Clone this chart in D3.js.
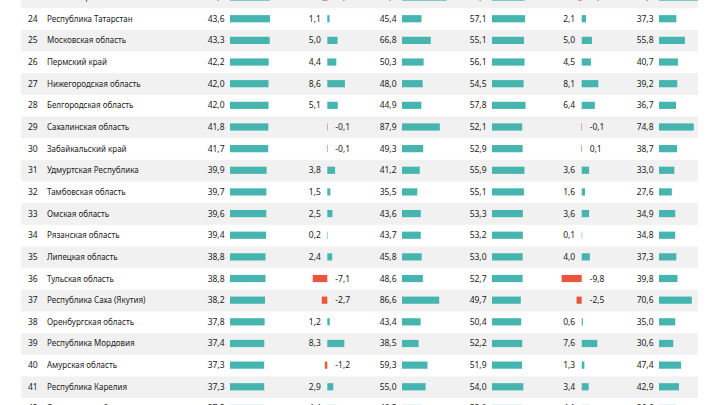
<!DOCTYPE html>
<html>
<head>
<meta charset="utf-8">
<title>Рейтинг регионов</title>
<script src="https://d3js.org/d3.v7.min.js"></script>
<style>
  body { margin: 0; background: #fff; }
  text { font-family: "Noto Sans", sans-serif; font-size: 8.5px; fill: #222; }
  text.name { font-size: 8px; }
</style>
</head>
<body>
<div id="chart"></div>
<script>

// rows as they appear in the table (23 and 42 are cut by the frame)
const ranks = [23, 24, 25, 26, 27, 28, 29, 30, 31, 32, 33, 34, 35, 36, 37, 38, 39, 40, 41, 42];
const regions = ["Новосибирская область", "Республика Татарстан", "Московская область", "Пермский край",
  "Нижегородская область", "Белгородская область", "Сахалинская область", "Забайкальский край",
  "Удмуртская Республика", "Тамбовская область", "Омская область", "Рязанская область",
  "Липецкая область", "Тульская область", "Республика Саха (Якутия)", "Оренбургская область",
  "Республика Мордовия", "Амурская область", "Республика Карелия", "Ярославская область"];

const col1 = [43.8, 43.6, 43.3, 42.2, 42.0, 42.0, 41.8, 41.7, 39.9, 39.7, 39.6, 39.4, 38.8, 38.8, 38.2, 37.8, 37.4, 37.3, 37.3, 37.2];
const col2 = [-2.3, 1.1, 5.0, 4.4, 8.6, 5.1, -0.1, -0.1, 3.8, 1.5, 2.5, 0.2, 2.4, -7.1, -2.7, 1.2, 8.3, -1.2, 2.9, 4.4];
const col3 = [104.0, 45.4, 66.8, 50.3, 48.0, 44.9, 87.9, 49.3, 41.2, 35.5, 43.6, 43.7, 45.8, 48.6, 86.6, 43.4, 38.5, 59.3, 55.0, 46.5];
const col4 = [56.0, 57.1, 55.1, 56.1, 54.5, 57.8, 52.1, 52.9, 55.9, 55.1, 53.3, 53.2, 53.0, 52.7, 49.7, 50.4, 52.2, 51.9, 54.0, 53.0];
const col5 = [-1.6, 2.1, 5.0, 4.5, 8.1, 6.4, -0.1, -0.1, 3.6, 1.6, 3.6, 0.1, 4.0, -9.8, -2.5, 0.6, 7.6, 1.3, 3.4, 4.1];
const col6 = [84.0, 37.3, 55.8, 40.7, 39.2, 36.7, 74.8, 38.7, 33.0, 27.6, 34.9, 34.8, 37.3, 39.8, 70.6, 35.0, 30.6, 47.4, 42.9, 36.6];
// the table prints this one cell without its minus sign
const col5Text = {30: "0,1"};

var width = 720, height = 405;
var teal = "#46b5b0", red = "#e8573b", stripe = "#f1f1f1";

var ru = d3.formatLocale({decimal: ",", thousands: " ", grouping: [3], currency: ["", ""], minus: "-"});
var fmt = ru.format(".1f");

var svg = d3.select("#chart")
  .append("svg")
    .attr("width", width)
    .attr("height", height);

// one band per row
var y = d3.scaleBand()
  .domain(ranks)
  .range([8.3 - 21.65, 8.3 + 19 * 21.65]);

var rows = ranks.map(function(r, i) {
  return {rank: r, name: regions[i], c1: col1[i], c2: col2[i], c3: col3[i], c4: col4[i], c5: col5[i], c6: col6[i]};
});

// striped background
svg.selectAll("rect.stripe")
  .data(rows.filter(function(d) { return d.rank % 2 == 1; }))
  .enter()
  .append("rect")
    .attr("class", "stripe")
    .attr("x", 21)
    .attr("width", 677)
    .attr("y", function(d) { return y(d.rank); })
    .attr("height", y.bandwidth())
    .attr("fill", stripe);

var mid = function(d) { return y(d.rank) + y.bandwidth() / 2 - 0.4; };

svg.selectAll("text.rank")
  .data(rows)
  .enter()
  .append("text")
    .attr("class", "rank")
    .attr("x", 28)
    .attr("y", function(d) { return mid(d) + 3; })
    .text(function(d) { return d.rank; });

svg.selectAll("text.name")
  .data(rows)
  .enter()
  .append("text")
    .attr("class", "name")
    .attr("x", 47)
    .attr("y", function(d) { return mid(d) + 3; })
    .text(function(d) { return d.name; });

// columns with plain positive bars
var barCols = [
  {key: "c1", x0: 230, scale: d3.scaleLinear().domain([0, 60]).range([0, 55])},
  {key: "c3", x0: 402, scale: d3.scaleLinear().domain([0, 120]).range([0, 51.6])},
  {key: "c4", x0: 492, scale: d3.scaleLinear().domain([0, 80]).range([0, 46.4])},
  {key: "c6", x0: 659, scale: d3.scaleLinear().domain([0, 100]).range([0, 46.5])}
];

barCols.forEach(function(col) {
  var g = svg.append("g");
  g.selectAll("rect")
    .data(rows)
    .enter()
    .append("rect")
      .attr("x", col.x0)
      .attr("y", function(d) { return mid(d) - 3.6; })
      .attr("height", 7.2)
      .attr("width", function(d) { return col.scale(d[col.key]); })
      .attr("fill", teal);
  g.selectAll("text")
    .data(rows)
    .enter()
    .append("text")
      .attr("x", col.x0 - 5.5)
      .attr("y", function(d) { return mid(d) + 3; })
      .attr("text-anchor", "end")
      .text(function(d) { return fmt(d[col.key]); });
});

// change columns, bars go both ways from zero
var diffCols = [
  {key: "c2", zero: 327.3, over: {}},
  {key: "c5", zero: 581.7, over: col5Text}
];
var dx = d3.scaleLinear().domain([-10, 10]).range([-20.5, 20.5]);

diffCols.forEach(function(col) {
  var g = svg.append("g");
  g.selectAll("rect")
    .data(rows)
    .enter()
    .append("rect")
      .attr("x", function(d) { return col.zero + Math.min(0, dx(d[col.key])); })
      .attr("y", function(d) { return mid(d) - 3.6; })
      .attr("height", 7.2)
      .attr("width", function(d) { return Math.max(0.5, Math.abs(dx(d[col.key]))); })
      .attr("fill", function(d) { return d[col.key] < 0 ? red : teal; });
  g.selectAll("text")
    .data(rows)
    .enter()
    .append("text")
      .attr("x", function(d) { return d[col.key] < 0 ? col.zero + 8 : col.zero - 6.5; })
      .attr("y", function(d) { return mid(d) + 3; })
      .attr("text-anchor", function(d) { return d[col.key] < 0 ? "start" : "end"; })
      .text(function(d) { return col.over[d.rank] || fmt(d[col.key]); });
});

</script>
</body>
</html>
